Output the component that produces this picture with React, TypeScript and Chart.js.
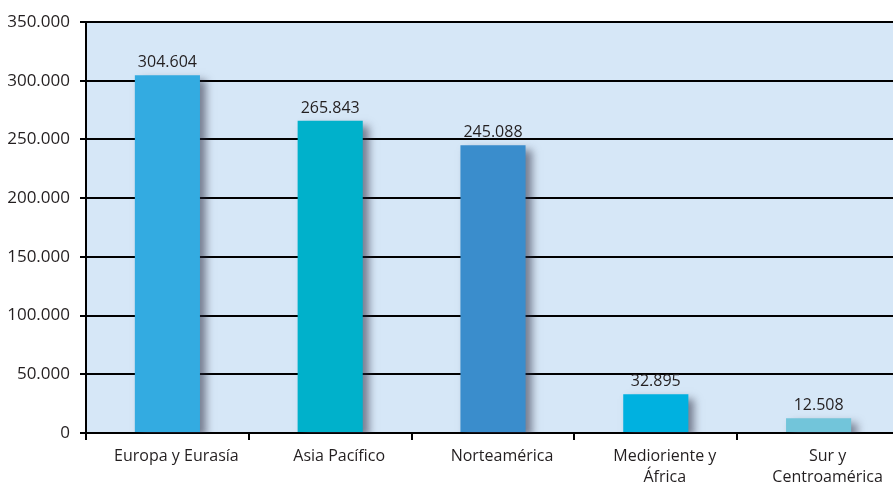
import React, { useEffect, useRef } from "react";
import { Chart, registerables } from "chart.js";

Chart.register(...registerables);

const categories: (string | string[])[] = [
  "Europa y Eurasía",
  "Asia Pacífico",
  "Norteamérica",
  ["Medioriente y", "África"],
  ["Sur y", "Centroamérica"],
];
const values = [304604, 265843, 245088, 32895, 12508];
const barColors = ["#33abe1", "#00b1cb", "#3a8dcc", "#00b1e0", "#72c5da"];
const yMax = 350000;
const yStep = 50000;

const fmt = (v: number) =>
  v === 0 ? "0" : Math.round(v).toString().replace(/\B(?=(\d{3})+(?!\d))/g, ".");

const FONT = "'Open Sans', 'DejaVu Sans', sans-serif";

export default function App() {
  const ref = useRef<HTMLCanvasElement>(null);
  useEffect(() => {
    if (!ref.current) return;
    const bgPlugin = {
      id: "bg",
      beforeDraw(chart: any) {
        const { ctx, chartArea } = chart;
        ctx.save();
        ctx.fillStyle = "#d6e7f7";
        ctx.fillRect(chartArea.left, chartArea.top, chartArea.right - chartArea.left + 10, chartArea.bottom - chartArea.top);
        ctx.restore();
      },
      beforeDatasetsDraw(chart: any) {
        const ctx = chart.ctx;
        ctx.save();
        ctx.shadowColor = "rgba(40,40,60,0.55)";
        ctx.shadowBlur = 8;
        ctx.shadowOffsetX = 6;
        ctx.shadowOffsetY = 5;
      },
      afterDatasetsDraw(chart: any) {
        const ctx = chart.ctx;
        ctx.restore();
        ctx.save();
        ctx.fillStyle = "#231f20";
        ctx.font = `16px ${FONT}`;
        ctx.textAlign = "center";
        ctx.textBaseline = "alphabetic";
        const meta = chart.getDatasetMeta(0);
        meta.data.forEach((el: any, i: number) => {
          ctx.fillText(fmt(values[i]), el.x, el.y - 8);
        });
        ctx.restore();
      },
    };
    const chart = new Chart(ref.current, {
      type: "bar",
      data: {
        labels: categories,
        datasets: [
          {
            data: values,
            backgroundColor: barColors,
            borderWidth: 0,
            categoryPercentage: 1,
            barPercentage: 0.4,
          },
        ],
      },
      options: {
        animation: false,
        responsive: false,
        maintainAspectRatio: false,
        layout: { padding: { top: 22, right: 0, left: 0, bottom: 0 } },
        plugins: { legend: { display: false }, tooltip: { enabled: false } },
        scales: {
          x: {
            grid: {
              offset: true,
              drawOnChartArea: false,
              drawTicks: true,
              tickLength: 7,
              color: "#000",
              lineWidth: 2,
            },
            border: { color: "#000", width: 2 },
            ticks: {
              color: "#231f20",
              font: { family: FONT, size: 16, lineHeight: 1.3 },
              maxRotation: 0,
              autoSkip: false,
              padding: 6,
              labelOffset: 9,
            },
            afterFit(scale: any) {
              scale.height = 51;
            },
          },
          y: {
            min: 0,
            max: yMax,
            ticks: {
              stepSize: yStep,
              color: "#231f20",
              font: { family: FONT, size: 17 },
              padding: 10,
              callback: (v: any) => fmt(Number(v)),
            },
            grid: { color: "#000", lineWidth: 2, drawTicks: true, tickLength: 6 },
            border: { color: "#000", width: 2 },
            afterFit(scale: any) {
              scale.width = 86;
            },
          },
        },
      },
      plugins: [bgPlugin],
    });
    return () => chart.destroy();
  }, []);
  return (
    <div style={{ position: "fixed", left: 0, top: 0, width: 893, height: 484, background: "#fff", overflow: "hidden" }}>
      <canvas ref={ref} width={900} height={484} style={{ display: "block" }} />
    </div>
  );
}
